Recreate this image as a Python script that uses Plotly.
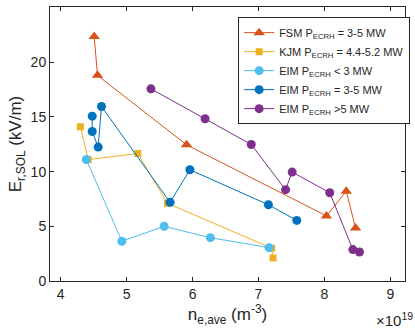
import plotly.graph_objects as go

# FSM, P_ECRH = 3-5 MW
fsm_x = [4.51, 4.56, 5.91, 8.03, 8.33, 8.47]
fsm_y = [22.35, 18.8, 12.45, 5.95, 8.2, 4.85]

# KJM, P_ECRH = 4.4-5.2 MW
kjm_x = [4.30, 4.42, 5.17, 5.62, 7.20, 7.22]
kjm_y = [14.1, 11.1, 11.66, 7.1, 3.0, 2.1]

# EIM, P_ECRH < 3 MW
eim_low_x = [4.39, 4.93, 5.57, 6.27, 7.16]
eim_low_y = [11.1, 3.63, 5.0, 3.96, 3.05]

# EIM, P_ECRH = 3-5 MW
eim_mid_x = [4.48, 4.48, 4.57, 4.62, 5.66, 5.96, 7.15, 7.58]
eim_mid_y = [15.07, 13.67, 12.24, 15.95, 7.2, 10.17, 6.97, 5.54]

# EIM, P_ECRH > 5 MW
eim_high_x = [5.37, 6.19, 6.89, 7.41, 7.51, 8.08, 8.43, 8.53]
eim_high_y = [17.57, 14.83, 12.48, 8.35, 9.96, 8.07, 2.87, 2.65]

series = [
    ("FSM P<sub>ECRH</sub> = 3-5 MW", fsm_x, fsm_y, "#D95319", "triangle-up", 10),
    ("KJM P<sub>ECRH</sub> = 4.4-5.2 MW", kjm_x, kjm_y, "#EDB120", "square", 7),
    ("EIM P<sub>ECRH</sub> < 3 MW", eim_low_x, eim_low_y, "#4DBEEE", "circle", 9),
    ("EIM P<sub>ECRH</sub> = 3-5 MW", eim_mid_x, eim_mid_y, "#0072BD", "circle", 9),
    ("EIM P<sub>ECRH</sub> >5 MW", eim_high_x, eim_high_y, "#7E2F8E", "circle", 9),
]

fig = go.Figure()
for name, xs, ys, col, sym, sz in series:
    fig.add_trace(go.Scatter(
        x=xs, y=ys, mode="lines+markers", name=name,
        line=dict(color=col, width=1),
        marker=dict(color=col, symbol=sym, size=sz),
    ))

axis_style = dict(
    showline=True, linecolor="#262626", linewidth=1, mirror="ticks",
    ticks="inside", ticklen=4, tickcolor="#262626",
    showgrid=False, zeroline=False, automargin=False,
    tickfont=dict(size=14, color="#262626"),
)

fig.update_xaxes(range=[3.84, 9.22], tickmode="linear", tick0=4, dtick=1,
                 title=dict(text="n<sub>e,ave</sub> (m<sup>-3</sup>)",
                            font=dict(size=17, color="#262626"), standoff=2),
                 **axis_style)
fig.update_yaxes(range=[0, 25.05], tickmode="linear", tick0=0, dtick=5,
                 title=dict(text="E<sub>r,SOL</sub> (kV/m)",
                            font=dict(size=17, color="#262626"), standoff=4),
                 **axis_style)

fig.add_annotation(text="×10<sup>19</sup>", x=1.0, y=-0.1, xref="paper", yref="paper",
                   xanchor="right", yanchor="top", showarrow=False, xshift=10,
                   font=dict(size=15, color="#262626"))

fig.update_layout(
    width=415, height=335,
    margin=dict(l=50, r=5, t=7, b=54),
    paper_bgcolor="white", plot_bgcolor="white",
    font=dict(family="Liberation Sans, Arial, sans-serif", color="#262626"),
    legend=dict(x=0.53, y=0.963, xanchor="left", yanchor="top",
                bgcolor="white", bordercolor="#262626", borderwidth=1,
                font=dict(size=11), tracegroupgap=0, itemwidth=30),
    showlegend=True,
)

fig.write_html("out.html", config={"displayModeBar": False},
               post_script="document.body.style.margin='0';")
